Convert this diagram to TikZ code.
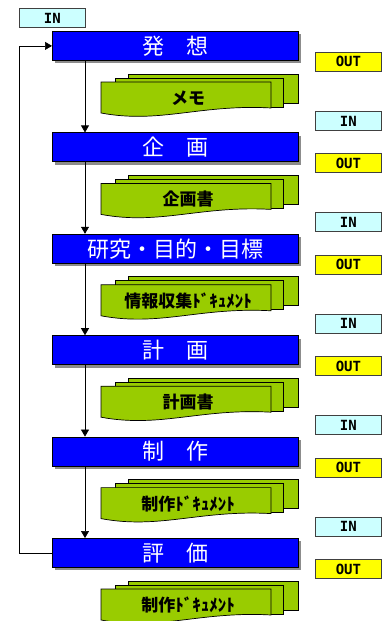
\documentclass[tikz,border=0pt]{standalone}
\usepackage{fontspec}
\usetikzlibrary{arrows.meta,shadows}
\newfontfamily\jp{Noto Sans CJK JP}
\newfontfamily\tagfont{DejaVu Sans Mono}
\definecolor{stageblue}{HTML}{0000FF}
\definecolor{docgreen}{HTML}{99CC00}
\definecolor{outyellow}{HTML}{FFFF00}
\definecolor{incyan}{HTML}{CCFFFF}
\definecolor{tagborder}{HTML}{404040}
\begin{document}
\begin{tikzpicture}[x=1pt,y=-1pt,
  stage/.style={draw=black, line width=0.8pt, fill=stageblue, minimum width=246pt,
    minimum height=29pt, inner sep=0pt, anchor=north west, text=white,
    font=\jp\fontsize{22}{22}\selectfont,
    drop shadow={shadow xshift=3pt, shadow yshift=-3pt, fill=black!45, opacity=1}},
  tagbox/.style={draw=tagborder, line width=0.8pt, minimum width=66pt, minimum height=19pt,
    inner sep=0pt, anchor=north west, font=\tagfont\bfseries\fontsize{14}{14}\selectfont},
  intag/.style={tagbox, fill=incyan},
  outtag/.style={tagbox, fill=outyellow},
  docpaper/.style={draw=black, line width=0.7pt, fill=docgreen},
  doctext/.style={font=\jp\bfseries\fontsize{17}{17}\selectfont, inner sep=0pt},
  arr/.style={draw=black, line width=0.7pt, -{Triangle[length=7pt,width=8pt]}}
]
\useasboundingbox[fill=white] (0,0) rectangle (382,621);

% top IN
\node[intag] (in0) at (19,8) {IN};

% stages
\foreach \i/\txt/\doc in {1/{発\hspace{1em}想}/{メモ},
                          2/{企\hspace{1em}画}/{企画書},
                          3/{研究・目的・目標}/{情報収集ﾄﾞｷｭﾒﾝﾄ},
                          4/{計\hspace{1em}画}/{計画書},
                          5/{制\hspace{1em}作}/{制作ﾄﾞｷｭﾒﾝﾄ},
                          6/{評\hspace{1em}価}/{制作ﾄﾞｷｭﾒﾝﾄ}} {
  \pgfmathsetmacro{\B}{31+101.4*(\i-1)}
  \pgfmathsetmacro{\T}{\B+51}
  % back paper
  \filldraw[docpaper] (128,\B+43) -- (298,\B+43) -- (298,\B+72) -- (128,\B+72) -- cycle;
  % middle paper
  \filldraw[docpaper] (115,\B+47) -- (283,\B+47) -- (283,\B+76) -- (115,\B+76) -- cycle;
  % front paper
  \filldraw[docpaper] (101,\T) -- (271,\T) -- (271,\T+26)
     .. controls (200,\T+22) and (160,\T+42) .. (101,\T+31) -- cycle;
  \node[doctext] (d\i) at (188,\B+67) {\doc};
  \node[stage] (s\i) at (52,\B) {\txt};
  \node[outtag] (o\i) at (315,\B+21) {OUT};
}
\foreach \i in {1,...,5} {
  \pgfmathsetmacro{\B}{31+101.4*(\i-1)}
  \node[intag] (i\i) at (315,\B+80) {IN};
}

% vertical arrows
\foreach \a/\b in {1/2,2/3,3/4,4/5,5/6} {
  \draw[arr] ([xshift=33pt]s\a.south west) -- ([xshift=33pt]s\b.north west);
}
% feedback loop
\coordinate (lp) at (19,0);
\draw[arr] (s6.west) -- (s6.west -| lp) |- (s1.west);
\end{tikzpicture}
\end{document}
